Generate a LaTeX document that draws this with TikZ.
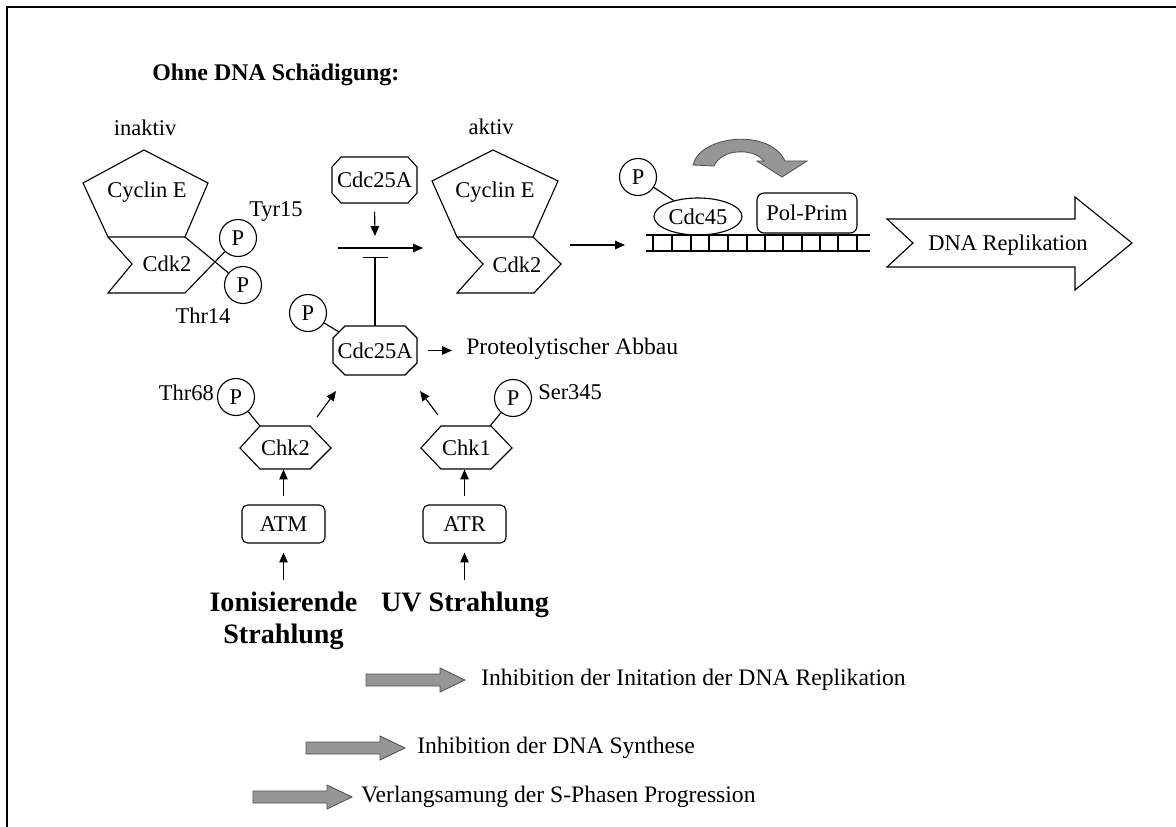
\documentclass[tikz,border=0pt]{standalone}
\usepackage{fontspec}
\setmainfont{Liberation Serif}
\usetikzlibrary{arrows.meta, shapes.geometric, positioning, calc}
\newcommand{\txtsize}{\fontsize{16}{19}\selectfont}
\newcommand{\legsize}{\fontsize{16.8}{20}\selectfont}
\newcommand{\bigbold}{\fontsize{20}{23}\selectfont\bfseries}
\definecolor{arrgray}{RGB}{150,150,150}
\definecolor{edgegray}{RGB}{80,80,80}
\tikzset{
  arr/.style={-{Triangle[length=7pt,width=6pt]}, line width=0.8pt},
  inhib/.style={-{Bar[width=6.25mm]}, line width=0.8pt},
  pcircle/.style={circle, draw, line width=0.8pt, minimum size=0.925cm, inner sep=0pt},
  kinbox/.style={draw, rounded corners=4pt, line width=0.8pt, minimum width=2.075cm, minimum height=0.95cm},
  octbox/.style={minimum width=2.125cm, minimum height=1.2cm, inner sep=0pt},
  hexbox/.style={minimum width=2.275cm, minimum height=1.075cm, inner sep=0pt},
  legtext/.style={anchor=west, font=\legsize},
  grayarrow/.style={fill=arrgray, draw=edgegray, line width=0.6pt}
}

\begin{document}
\begin{tikzpicture}[x=0.025cm, y=-0.025cm, line width=0.8pt, font=\txtsize]
\useasboundingbox (0,0) rectangle (1176,827);
% Rahmen
\draw[line width=2pt] (7,827) -- (7,7) -- (1176,7);

\node[font=\fontsize{17}{20}\selectfont\bfseries, anchor=west] (title) at (147,75) {Ohne DNA Schädigung:};
\node (inaktiv) at (145,128) {inaktiv};
\node (aktiv) at (491,127) {aktiv};

% inaktiver Komplex
\draw (144,150) -- (208,183) -- (185,237) -- (108,237) -- (83,183) -- cycle;
\draw (185,293) -- (108,293) -- (132,264) -- (108,237);
\node (cycA) at (147,192) {Cyclin E};
\node (cdkA) at (167,264) {Cdk2};
\node[pcircle] (p15) at (238,238) {P};
\node[pcircle] (p14) at (243,285) {P};
\coordinate (cdkAtr) at (185,237);
\coordinate (cdkAbr) at (185,293);
\draw (cdkAtr) -- (p14);
\draw (cdkAbr) -- (p15);
\node (tyr) at (276,212) {Tyr15};
\node (thr14) at (203,316) {Thr14};

% Cdc25A oben
\draw (341,157) -- (408,157) -- (417,167) -- (417,193) -- (408,203) -- (341,203) -- (332,193) -- (332,167) -- cycle;
\node[octbox] (cdcA) at (374.5,180) {Cdc25A};
\coordinate (hjoin) at (375,236);
\draw[arr, shorten <=0.175cm] (cdcA.south) -- (hjoin);
\coordinate (hin) at (338,248);
\coordinate (hout) at (423,248);
\draw[arr] (hin) -- (hout);
\coordinate (hbar) at (375,257);

% aktiver Komplex
\draw (493,150) -- (558,181) -- (533,237) -- (457,237) -- (432,181) -- cycle;
\draw (533,237) -- (561,264) -- (534,293) -- (457,293) -- (483,264) -- (457,237);
\node (cycB) at (495,192) {Cyclin E};
\node (cdkB) at (517,265) {Cdk2};
\coordinate (cdkBout) at (570,245);
\coordinate (dnain) at (625,245);
\draw[arr] (cdkBout) -- (dnain);

% DNA
\draw (646,235) -- (870,235);
\draw (646,251) -- (870,251);
\draw (653,235) -- (653,251) (672,235) -- (672,251) (691,235) -- (691,251)
      (709,235) -- (709,251) (728,235) -- (728,251) (747,235) -- (747,251)
      (765,235) -- (765,251) (783,235) -- (783,251) (802,235) -- (802,251)
      (820,235) -- (820,251) (838,235) -- (838,251) (857,235) -- (857,251);
\node[pcircle] (pc45) at (638,177) {P};
\node[draw, ellipse, minimum width=2.2cm, minimum height=0.925cm, inner sep=0pt] (cdc45) at (698,216.5) {Cdc45};
\draw (pc45) -- (cdc45);
\node[draw, rounded corners=5pt, minimum width=2.5cm, minimum height=1cm] (polprim) at (807,213) {Pol-Prim};
\draw[grayarrow] (693,165) .. controls (700,135) and (770,128) .. (785,161) -- (807,161) -- (782,177)
  -- (757,161) -- (764,161) .. controls (754,148) and (722,148) .. (714,166) -- cycle;

% Replikation
\draw (887,219) -- (1075,219) -- (1075,197) -- (1132,243) -- (1075,290) -- (1075,267) -- (887,267) -- (913,243) -- cycle;
\node (repl) at (1008,245) {DNA Replikation};

% Cdc25A Mitte
\draw (345,326) -- (405,326) -- (417,338) -- (417,363) -- (405,375) -- (345,375) -- (333,363) -- (333,338) -- cycle;
\node[octbox] (cdcB) at (375,350.5) {Cdc25A};
\draw[inhib] (cdcB.north) -- (hbar);
\node[pcircle] (pcdc) at (308,313) {P};
\coordinate (cdcBnw) at (339,332);
\draw (pcdc) -- (cdcBnw);
\node[legtext] (abbau) at (461,349) {Proteolytischer Abbau};
\draw[arr, shorten <=0.25cm, shorten >=0.225cm] (cdcB.east) -- (abbau.west |- cdcB.east);

% Chk2 / Chk1
\draw (240,448) -- (260,426) -- (310,426) -- (331,448) -- (310,469) -- (260,469) -- cycle;
\node[hexbox] (chk2) at (285.5,447.5) {Chk2};
\node[pcircle] (pchk2) at (236,397) {P};
\coordinate (chk2tl) at (260,426);
\draw (pchk2) -- (chk2tl);
\node[anchor=east] (thr68) at (219,393) {Thr68};

\draw (421,448) -- (441,426) -- (491,426) -- (512,448) -- (491,469) -- (441,469) -- cycle;
\node[hexbox] (chk1) at (466.5,447.5) {Chk1};
\node[pcircle] (pchk1) at (513,398) {P};
\coordinate (chk1tr) at (490,426);
\draw (pchk1) -- (chk1tr);
\node[anchor=west] (ser) at (533,392) {Ser345};

\coordinate (a2s) at (317,417);
\coordinate (a2e) at (336,391);
\draw[arr] (a2s) -- (a2e);
\coordinate (a1s) at (438,415);
\coordinate (a1e) at (420,391);
\draw[arr] (a1s) -- (a1e);

% ATM / ATR
\node[kinbox] (atm) at (283.5,524) {ATM};
\node[kinbox] (atr) at (464.5,524) {ATR};
\draw[arr, shorten <=0.2cm] (atm.north) -- (atm.north |- chk2.south);
\draw[arr, shorten <=0.2cm] (atr.north) -- (atr.north |- chk1.south);
\node[font=\bigbold, align=center] (ionis) at (283.5,621) {Ionisierende\\Strahlung};
\node[font=\bigbold] (uv) at (465,605) {UV Strahlung};
\coordinate (ionarr) at (283.5,580);
\coordinate (uvarr) at (464.5,580);
\draw[arr, shorten >=0.225cm] (ionarr) -- (atm.south);
\draw[arr, shorten >=0.225cm] (uvarr) -- (atr.south);

% Legende
\draw[grayarrow] (366,674) -- (440,674) -- (440,668) -- (465,680) -- (440,692) -- (440,686) -- (366,686) -- cycle;
\node[legtext] (leg1) at (476,680) {Inhibition der Initation der DNA Replikation};
\draw[grayarrow] (306,742) -- (380,742) -- (380,736) -- (405,748) -- (380,760) -- (380,754) -- (306,754) -- cycle;
\node[legtext] (leg2) at (412,748) {Inhibition der DNA Synthese};
\draw[grayarrow] (253,791) -- (327,791) -- (327,785) -- (352,797) -- (327,809) -- (327,803) -- (253,803) -- cycle;
\node[legtext] (leg3) at (356,797) {Verlangsamung der S-Phasen Progression};
\end{tikzpicture}
\end{document}
